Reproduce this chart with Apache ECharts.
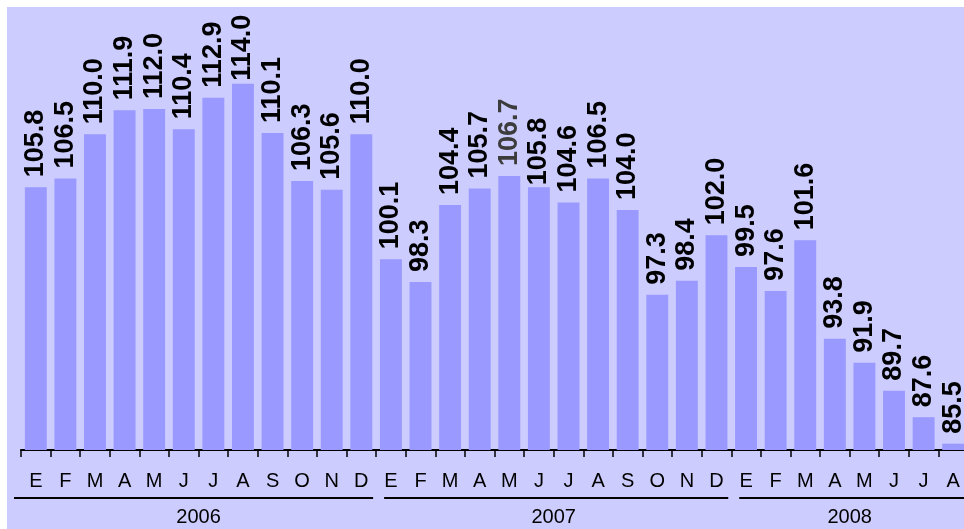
<!DOCTYPE html>
<html>
<head>
<meta charset="utf-8">
<title>Índice mensual 2006-2008</title>
<script src="https://cdn.jsdelivr.net/npm/echarts@6/dist/echarts.min.js"></script>
<style>
  html, body { margin: 0; padding: 0; background: #fff; }
  #chart { width: 964px; height: 529px; }
</style>
</head>
<body>
<div id="chart"></div>
<script>
  // data
  const months = ['E', 'F', 'M', 'A', 'M', 'J', 'J', 'A', 'S', 'O', 'N', 'D',
    'E', 'F', 'M', 'A', 'M', 'J', 'J', 'A', 'S', 'O', 'N', 'D',
    'E', 'F', 'M', 'A', 'M', 'J', 'J', 'A']
  const values = [105.8, 106.5, 110.0, 111.9, 112.0, 110.4, 112.9, 114.0, 110.1, 106.3, 105.6, 110.0,
    100.1, 98.3, 104.4, 105.7, 106.7, 105.8, 104.6, 106.5, 104.0, 97.3, 98.4, 102.0,
    99.5, 97.6, 101.6, 93.8, 91.9, 89.7, 87.6, 85.5]
  const years = ['2006', '2007', '2008']
  const yearCounts = [12, 12, 8]

  // year label sits in the middle of its months
  const yearAt = {}
  let start = 0
  years.forEach((y, i) => {
    yearAt[start + yearCounts[i] / 2] = y
    start += yearCounts[i]
  })

  const labelBase = {
    show: true,
    position: 'top',
    rotate: 90,
    align: 'left',
    verticalAlign: 'middle',
    distance: 10,
    fontSize: 27,
    fontWeight: 'bold',
    fontFamily: 'Liberation Sans, Arial, sans-serif',
    color: '#000',
    formatter: p => p.value.toFixed(1)
  }

  const barData = values.map((v, i) => {
    const item = { value: v }
    if (i === 7) item.label = { distance: 3 }        // 114.0 pushed down under the top edge
    if (i === 16) item.label = { color: '#3c3c3c' }  // 106.7 drawn greyish
    if (i === 17) item.label = { distance: 2 }
    return item
  })

  const chart = echarts.init(document.getElementById('chart'))
  const option = {
    animation: false,
    textStyle: { fontFamily: 'Liberation Sans, Arial, sans-serif' },
    graphic: [{
      type: 'rect',
      z: -10,
      silent: true,
      shape: { x: 7, y: 7, width: 957, height: 522 },
      style: { fill: '#ccccff' }
    }],
    grid: {
      left: 21,
      right: -4,
      top: 8,
      bottom: 79,
      outerBoundsMode: 'none'
    },
    xAxis: [{
      type: 'category',
      data: months,
      axisLine: { lineStyle: { color: '#000', width: 2 } },
      axisTick: { show: true, length: 7, lineStyle: { color: '#000', width: 1.5 } },
      axisLabel: { interval: 0, color: '#000', fontSize: 20, margin: 21 }
    }, {
      type: 'value',
      position: 'bottom',
      min: 0,
      max: months.length,
      interval: 1,
      offset: 47,
      axisLine: { show: false },
      axisTick: { show: false },
      splitLine: { show: false },
      axisLabel: {
        color: '#000',
        fontSize: 20,
        margin: 10,
        showMinLabel: true,
        showMaxLabel: true,
        formatter: v => yearAt[v] || ''
      }
    }],
    yAxis: {
      type: 'value',
      min: 85,
      max: 120,
      show: false
    },
    series: [{
      type: 'bar',
      xAxisIndex: 0,
      barWidth: '74%',
      itemStyle: { color: '#9999ff' },
      label: labelBase,
      data: barData
    }]
  }
  chart.setOption(option)

  // underline for each year, spanning its months
  const lines = []
  let s = 0
  years.forEach((y, i) => {
    const e = s + yearCounts[i]
    const x0 = chart.convertToPixel({ xAxisIndex: 1 }, s) + (i === 0 ? -7 : 8)
    const x1 = chart.convertToPixel({ xAxisIndex: 1 }, e) - 3
    lines.push({
      type: 'line',
      silent: true,
      shape: { x1: x0, y1: 498, x2: x1, y2: 498 },
      style: { stroke: '#000', lineWidth: 2 }
    })
    s = e
  })
  chart.setOption({ graphic: option.graphic.concat(lines) })
</script>
</body>
</html>
